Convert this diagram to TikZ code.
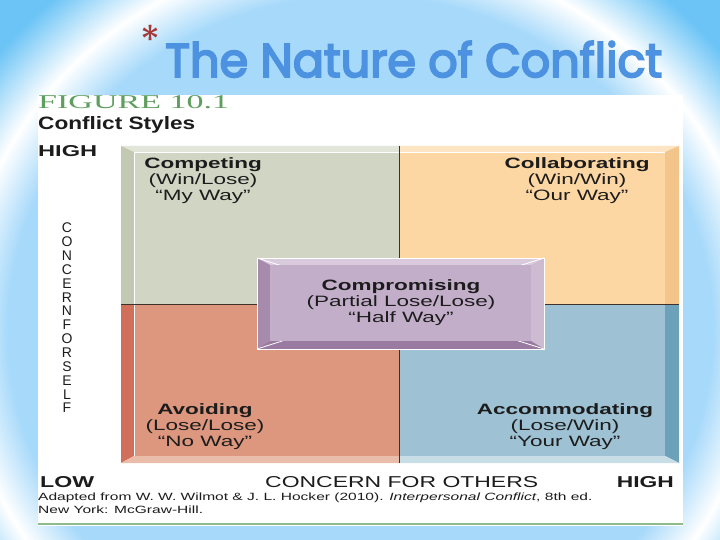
\documentclass[tikz,border=0pt]{standalone}
\usepackage{fontspec}
\usepackage{graphicx}
\setmainfont{Liberation Sans}
\newfontfamily\titlefont[FakeBold=4]{Poppins}
\newfontfamily\starfont{Poppins}
\newfontfamily\figfont{Liberation Serif}
\usetikzlibrary{positioning}

\definecolor{slideblue}{HTML}{6CC4F6}
\definecolor{glowlight}{HTML}{A6D9FA}
\definecolor{titleblue}{HTML}{4C92E0}
\definecolor{starred}{HTML}{A33A3A}
\definecolor{figgreen}{HTML}{5E9E5E}
\definecolor{inkgray}{HTML}{1C1C1C}
\definecolor{divbrown}{HTML}{3E302A}
\definecolor{qgreen}{HTML}{D1D6C4}
\definecolor{qgreenlt}{HTML}{E2E5D9}
\definecolor{qgreendk}{HTML}{C3C8B2}
\definecolor{qpeach}{HTML}{FDD7A3}
\definecolor{qpeachlt}{HTML}{FDE4C3}
\definecolor{qpeachdk}{HTML}{F4C58B}
\definecolor{qsalmon}{HTML}{DD977F}
\definecolor{qsalmonlt}{HTML}{EABCAA}
\definecolor{qsalmondk}{HTML}{D0705A}
\definecolor{qblue}{HTML}{9EC2D3}
\definecolor{qbluelt}{HTML}{C9DDE6}
\definecolor{qbluedk}{HTML}{6CA1BA}
\definecolor{mauve}{HTML}{C3AECA}
\definecolor{mauvelt}{HTML}{D9CBDD}
\definecolor{mauvemid}{HTML}{CDBBD1}
\definecolor{mauvedk}{HTML}{A68BAD}
\definecolor{mauvedeep}{HTML}{9A7AA0}

\pgfdeclareradialshading{slideglow}{\pgfpoint{0bp}{0bp}}{%
  color(0bp)=(glowlight); color(11bp)=(glowlight); color(12.5bp)=(white);
  color(14.5bp)=(slideblue); color(50bp)=(slideblue)}

\newcommand{\widen}[1]{\scalebox{1.5}[1]{#1}}
\newcommand{\styletext}[3]{\widen{\textbf{#1}}\\\widen{#2}\\\widen{#3}}

\begin{document}
\begin{tikzpicture}[
    x=1pt, y=-1pt,
    lbl/.style={inner sep=0pt, text=inkgray},
    quad/.style={lbl, align=center, font=\fontsize{15}{16}\selectfont},
    axis/.style={lbl, anchor=base west},
    divider/.style={divbrown, line width=1pt},
    rim/.style={white, line width=0.8pt},
]
  \useasboundingbox (0,0) rectangle (720,540);

  % slide background
  \begin{scope}
    \clip (0,0) rectangle (720,540);
    \fill[slideblue] (0,0) rectangle (720,540);
    \shade[shading=slideglow] (360,330) ellipse [x radius=800, y radius=760];
  \end{scope}

  \node[inner sep=0pt, text=starred, font=\starfont] (star) at (150,40)
    {\resizebox{20pt}{!}{*}};
  \node[inner sep=0pt, anchor=base west, text=titleblue, font=\titlefont] (title)
    at (165,77) {\resizebox{497pt}{36pt}{The Nature of Conflict}};

  % figure page
  \fill[white] (38,95) rectangle (683,526);
  \draw[figgreen!70, line width=1.2pt] (38,524) -- (683,524);

  \node[inner sep=0pt, anchor=base west, text=figgreen, font=\figfont] (fignum)
    at (38,109) {\resizebox{191pt}{13pt}{FIGURE 10.1}};
  \node[axis] (figtitle) at (38,130) {\resizebox{157pt}{13pt}{\bfseries Conflict Styles}};

  % quadrants with bevelled rim
  \fill[qgreen] (134,152) rectangle (399,304);
  \fill[qgreenlt] (121,146) -- (399,146) -- (399,152) -- (134,152) -- cycle;
  \fill[qgreendk] (121,146) -- (134,152) -- (134,304) -- (121,304) -- cycle;
  \fill[qpeach] (399,152) rectangle (665,304);
  \fill[qpeachlt] (399,146) -- (679,146) -- (665,152) -- (399,152) -- cycle;
  \fill[qpeachdk] (679,146) -- (679,304) -- (665,304) -- (665,152) -- cycle;
  \fill[qsalmon] (134,304) rectangle (399,456);
  \fill[qsalmondk] (121,304) -- (134,304) -- (134,456) -- (121,463) -- cycle;
  \fill[qsalmonlt] (121,463) -- (134,456) -- (399,456) -- (399,463) -- cycle;
  \fill[qblue] (399,304) rectangle (665,456);
  \fill[qbluedk] (665,304) -- (679,304) -- (679,463) -- (665,456) -- cycle;
  \fill[qbluelt] (399,456) -- (665,456) -- (679,463) -- (399,463) -- cycle;
  \draw[rim] (134,456) -- (134,152) -- (665,152);

  \draw[divider] (399,146) -- (399,463);
  \draw[divider] (121,304) -- (679,304);

  % compromise box
  \fill[mauve] (270,265) rectangle (531,341);
  \fill[mauvelt] (257,258) -- (544,258) -- (531,265) -- (270,265) -- cycle;
  \fill[mauvedk] (257,258) -- (270,265) -- (270,341) -- (257,349) -- cycle;
  \fill[mauvemid] (544,258) -- (544,349) -- (531,341) -- (531,265) -- cycle;
  \fill[mauvedeep] (257,349) -- (270,341) -- (531,341) -- (544,349) -- cycle;
  \draw[rim] (257,258) rectangle (544,349);
  \foreach \a/\b in {257/258, 544/258, 544/349, 257/349}
    \draw[rim] (\a,\b) -- (400,303.5);
  \fill[mauve] (270,265) rectangle (531,341);

  \node[quad] (competing) at (203,181) {\styletext{Competing}{(Win/Lose)}{“My Way”}};
  \node[quad] (collab) at (577,181) {\styletext{Collaborating}{(Win/Win)}{“Our Way"}};
  \node[quad] (compromise) at (401,303) {\styletext{Compromising}{(Partial Lose/Lose)}{“Half Way"}};
  \node[quad] (avoiding) at (205,427) {\styletext{Avoiding}{(Lose/Lose)}{“No Way”}};
  \node[quad] (accom) at (565,427) {\styletext{Accommodating}{(Lose/Win)}{“Your Way”}};

  % axes
  \node[axis] (selfhigh) at (38,157) {\resizebox{59pt}{11pt}{\bfseries HIGH}};
  \node[lbl, align=center, font=\fontsize{14}{13.85}\selectfont] (selfaxis) at (67,318)
    {C\\O\\N\\C\\E\\R\\N\\F\\O\\R\\S\\E\\L\\F};
  \node[axis] (otherlow) at (40,487) {\resizebox{54pt}{11pt}{\bfseries LOW}};
  \node[axis] (otheraxis) at (265,487) {\resizebox{273pt}{11pt}{CONCERN FOR OTHERS}};
  \node[axis, anchor=base east] (otherhigh) at (674,487) {\resizebox{57pt}{11pt}{\bfseries HIGH}};

  \node[lbl, anchor=north west, align=left, font=\fontsize{10.5}{13}\selectfont] (source)
    at (38,493) {\scalebox{1.48}[1]{Adapted from W. W. Wilmot \& J. L. Hocker (2010). \textit{Interpersonal Conflict}, 8th ed.}\\
    \scalebox{1.48}[1]{New York: McGraw-Hill.}};
\end{tikzpicture}
\end{document}
